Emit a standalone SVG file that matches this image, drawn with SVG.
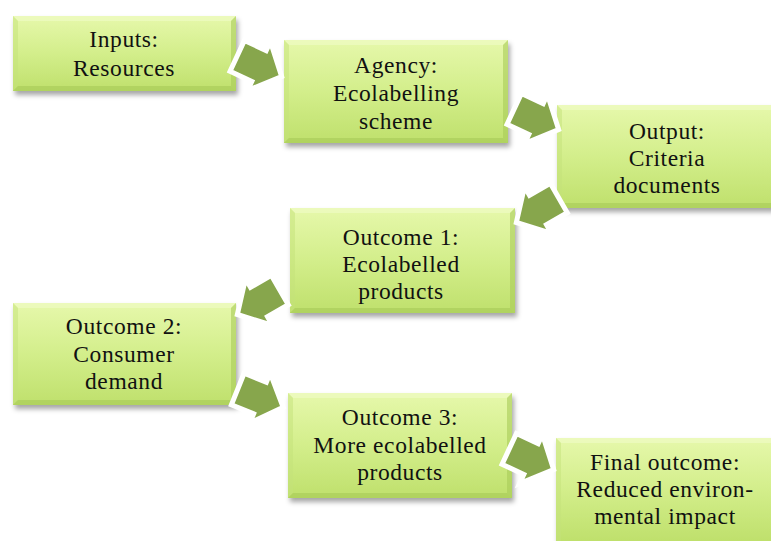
<svg xmlns="http://www.w3.org/2000/svg" width="771" height="541" viewBox="0 0 771 541">
<style>
.box{fill:url(#g);filter:url(#sh);}
.bt{fill:#f0fcc8;opacity:0.6;}
.bl{fill:#c4e27a;opacity:0.5;}
.br{fill:#a8cc58;opacity:0.6;}
.bb{fill:#a6c956;opacity:0.6;}
.t{font-family:"Liberation Serif","Times New Roman",serif;font-size:23.5px;letter-spacing:0.6px;fill:#111;text-anchor:middle;}
.arr{fill:#87a64c;stroke:#fff;stroke-width:5;stroke-linejoin:miter;}
</style>
<defs>
<linearGradient id="g" x1="0" y1="0" x2="0" y2="1">
<stop offset="0" stop-color="#e6f8ab"/>
<stop offset="0.5" stop-color="#d3ee8b"/>
<stop offset="1" stop-color="#bfe06c"/>
</linearGradient>
<filter id="sh" x="-10%" y="-10%" width="125%" height="130%">
<feGaussianBlur in="SourceAlpha" stdDeviation="2.5"/>
<feOffset dx="2" dy="4" result="b"/>
<feFlood flood-color="#000" flood-opacity="0.35"/>
<feComposite in2="b" operator="in"/>
<feMerge><feMergeNode/><feMergeNode in="SourceGraphic"/></feMerge>
</filter>
<polygon id="ar" points="-24,-17 0,-17 0,-27 25,0 0,27 0,17 -24,17"/>
</defs>
<g id="n1">
<rect class="box" x="13" y="16" width="223" height="75"/>
<polygon class="bt" points="13,16 236,16 231,21 18,21"/>
<polygon class="bl" points="13,16 18,21 18,86 13,91"/>
<polygon class="br" points="236,16 236,91 231,86 231,21"/>
<polygon class="bb" points="13,91 236,91 231,86 18,86"/>
<text class="t" x="124" y="47">Inputs:</text>
<text class="t" x="124" y="76">Resources</text>
</g>
<g id="n2">
<rect class="box" x="284" y="40" width="224" height="103"/>
<polygon class="bt" points="284,40 508,40 503,45 289,45"/>
<polygon class="bl" points="284,40 289,45 289,138 284,143"/>
<polygon class="br" points="508,40 508,143 503,138 503,45"/>
<polygon class="bb" points="284,143 508,143 503,138 289,138"/>
<text class="t" x="396" y="73">Agency:</text>
<text class="t" x="396" y="101">Ecolabelling</text>
<text class="t" x="396" y="129">scheme</text>
</g>
<g id="n3">
<rect class="box" x="557" y="105" width="224" height="103"/>
<polygon class="bt" points="557,105 781,105 776,110 562,110"/>
<polygon class="bl" points="557,105 562,110 562,203 557,208"/>
<polygon class="bb" points="557,208 781,208 776,203 562,203"/>
<text class="t" x="667" y="139">Output:</text>
<text class="t" x="667" y="166">Criteria</text>
<text class="t" x="667" y="193">documents</text>
</g>
<g id="n4">
<rect class="box" x="290" y="208" width="225" height="105"/>
<polygon class="bt" points="290,208 515,208 510,213 295,213"/>
<polygon class="bl" points="290,208 295,213 295,308 290,313"/>
<polygon class="br" points="515,208 515,313 510,308 510,213"/>
<polygon class="bb" points="290,313 515,313 510,308 295,308"/>
<text class="t" x="401" y="245">Outcome 1:</text>
<text class="t" x="401" y="272">Ecolabelled</text>
<text class="t" x="401" y="299">products</text>
</g>
<g id="n5">
<rect class="box" x="13" y="303" width="223" height="102"/>
<polygon class="bt" points="13,303 236,303 231,308 18,308"/>
<polygon class="bl" points="13,303 18,308 18,400 13,405"/>
<polygon class="br" points="236,303 236,405 231,400 231,308"/>
<polygon class="bb" points="13,405 236,405 231,400 18,400"/>
<text class="t" x="124" y="334">Outcome 2:</text>
<text class="t" x="124" y="362">Consumer</text>
<text class="t" x="124" y="389">demand</text>
</g>
<g id="n6">
<rect class="box" x="288" y="393" width="224" height="105"/>
<polygon class="bt" points="288,393 512,393 507,398 293,398"/>
<polygon class="bl" points="288,393 293,398 293,493 288,498"/>
<polygon class="br" points="512,393 512,498 507,493 507,398"/>
<polygon class="bb" points="288,498 512,498 507,493 293,493"/>
<text class="t" x="400" y="425">Outcome 3:</text>
<text class="t" x="400" y="453">More ecolabelled</text>
<text class="t" x="400" y="480">products</text>
</g>
<g id="n7">
<rect class="box" x="556" y="438" width="224" height="103"/>
<polygon class="bt" points="556,438 780,438 775,443 561,443"/>
<polygon class="bl" points="556,438 561,443 561,541 556,541"/>
<text class="t" x="665" y="470">Final outcome:</text>
<text class="t" x="665" y="497">Reduced environ-</text>
<text class="t" x="665" y="524">mental impact</text>
</g>
<g id="connectors">
<use href="#ar" class="arr" transform="translate(259,66) rotate(25)"/>
<use href="#ar" class="arr" transform="translate(536,119) rotate(25)"/>
<use href="#ar" class="arr" transform="translate(538,210) rotate(150)"/>
<use href="#ar" class="arr" transform="translate(259,302) rotate(150)"/>
<use href="#ar" class="arr" transform="translate(260,398) rotate(22)"/>
<use href="#ar" class="arr" transform="translate(531,459) rotate(25)"/>
</g>
</svg>
